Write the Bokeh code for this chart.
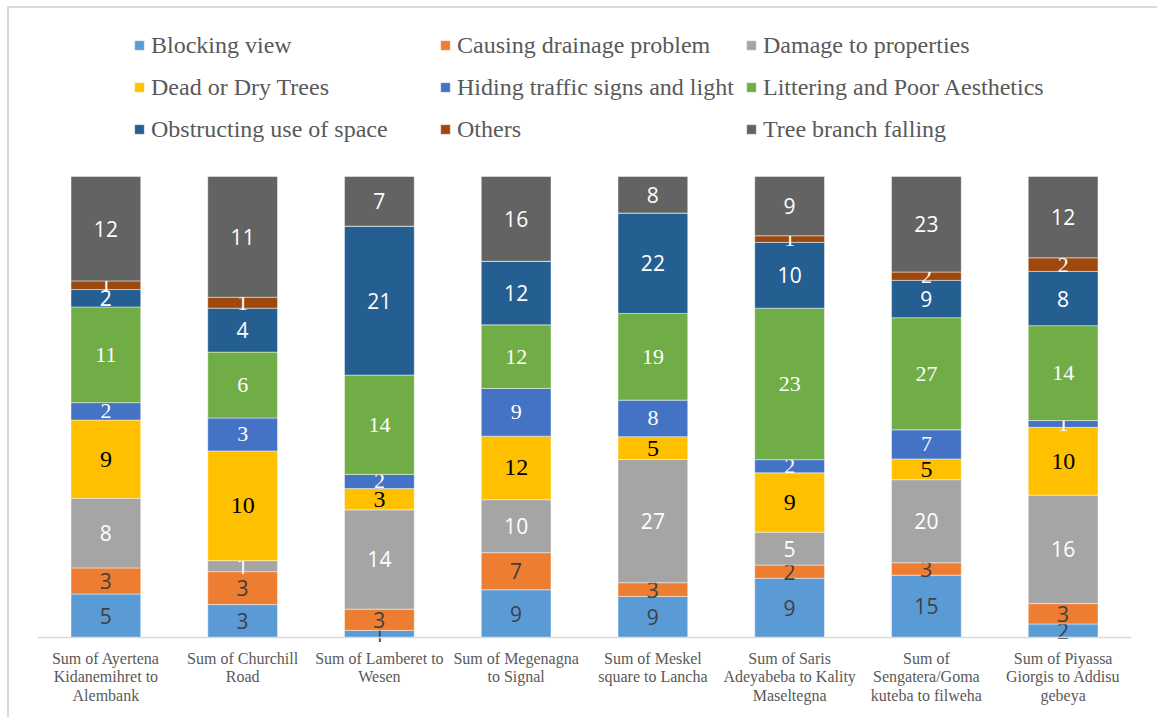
from bokeh.plotting import figure
from bokeh.models import ColumnDataSource, Legend, LegendItem, Span
from bokeh.core.properties import value
from bokeh.embed import file_html
from bokeh.resources import INLINE
import numpy as np

categories = [
    "Sum of Ayertena\nKidanemihret to\nAlembank",
    "Sum of Churchill\nRoad",
    "Sum of Lamberet to\nWesen",
    "Sum of Megenagna\nto Signal",
    "Sum of Meskel\nsquare to Lancha",
    "Sum of Saris\nAdeyabeba to Kality\nMaseltegna",
    "Sum of\nSengatera/Goma\nkuteba to filweha",
    "Sum of Piyassa\nGiorgis to Addisu\ngebeya",
]

series_names = [
    "Blocking view",
    "Causing drainage problem",
    "Damage to properties",
    "Dead or Dry Trees",
    "Hiding traffic signs and light",
    "Littering and Poor Aesthetics",
    "Obstructing use of space",
    "Others",
    "Tree branch falling",
]

blocking_view = [5, 3, 1, 9, 9, 9, 15, 2]
causing_drainage = [3, 3, 3, 7, 3, 2, 3, 3]
damage_properties = [8, 1, 14, 10, 27, 5, 20, 16]
dead_dry_trees = [9, 10, 3, 12, 5, 9, 5, 10]
hiding_signs = [2, 3, 2, 9, 8, 2, 7, 1]
littering = [11, 6, 14, 12, 19, 23, 27, 14]
obstructing = [2, 4, 21, 12, 22, 10, 9, 8]
others = [1, 1, 0, 0, 0, 1, 2, 2]
tree_branch = [12, 11, 7, 16, 8, 9, 23, 12]

series_values = [blocking_view, causing_drainage, damage_properties, dead_dry_trees,
                 hiding_signs, littering, obstructing, others, tree_branch]

colors = ["#5B9BD5", "#ED7D31", "#A5A5A5", "#FFC000", "#4472C4",
          "#70AD47", "#255E91", "#9E480E", "#636363"]

SANS = "Open Sans"
SERIF = "Liberation Serif"
label_styles = [
    (SANS, "21px", "#404040"),
    (SANS, "21px", "#404040"),
    (SANS, "21px", "white"),
    (SERIF, "24px", "black"),
    (SERIF, "22px", "white"),
    (SERIF, "22px", "white"),
    (SANS, "21px", "white"),
    (SERIF, "22px", "white"),
    (SANS, "21px", "white"),
]

vals = np.array(series_values, dtype=float)
totals = vals.sum(axis=0)
frac = vals / totals
tops = np.cumsum(frac, axis=0)
bottoms = tops - frac

# layout (pixels): bars span 176..637; frame extends above for the legend
PX = 461.0
FRAME_TOP, BAR_TOP, BASE, FRAME_BOTTOM = 10, 176, 637, 645
y_start = -(FRAME_BOTTOM - BASE) / PX
y_end = 1 + (BAR_TOP - FRAME_TOP) / PX

p = figure(
    x_range=categories, y_range=(y_start, y_end),
    width=1157, height=717,
    output_backend="svg", toolbar_location=None,
    y_axis_location=None,
    min_border_left=37, min_border_right=26,
    min_border_top=FRAME_TOP, min_border_bottom=717 - FRAME_BOTTOM,
)
p.background_fill_color = None
p.border_fill_color = None
p.outline_line_color = None
p.xgrid.visible = False
p.ygrid.visible = False

p.styles = {
    "background": "linear-gradient(#D9D9D9,#D9D9D9) 8px 6px / 1149px 2px no-repeat, "
                  "linear-gradient(#D9D9D9,#D9D9D9) 7px 6px / 2px 711px no-repeat, white"
}

xa = p.xaxis[0]
xa.axis_line_color = None
xa.major_tick_line_color = None
xa.minor_tick_line_color = None
xa.major_label_text_font = SERIF
xa.major_label_text_font_size = "16px"
xa.major_label_text_color = "#595959"
xa.major_label_text_line_height = 1.1
xa.major_label_standoff = -2
xa.major_label_orientation = "horizontal"

p.add_layout(Span(location=0, dimension="width", line_color="#D9D9D9", line_width=1.5))

items = []
for i, name in enumerate(series_names):
    labels = [("%d" % v) if v > 0 else "" for v in series_values[i]]
    src = ColumnDataSource(dict(
        x=categories, bottom=bottoms[i], top=tops[i],
        mid=(bottoms[i] + tops[i]) / 2, label=labels,
    ))
    r = p.vbar(x="x", bottom="bottom", top="top", width=0.51, source=src,
               fill_color=colors[i], line_color="white", line_alpha=0.45, line_width=1)
    font, size, col = label_styles[i]
    p.text(x="x", y="mid", text="label", source=src,
           text_align="center", text_baseline="middle",
           text_font=value(font), text_font_size=size, text_color=col)
    items.append(LegendItem(label=name, renderers=[r]))

legend = Legend(
    items=items, orientation="horizontal", ncols=3,
    location=(96, FRAME_BOTTOM - 150),
    glyph_width=12, glyph_height=12, label_standoff=6,
    label_width=288, label_height=42, spacing=0,
    padding=0, margin=0,
    label_text_font=SERIF, label_text_font_size="24px",
    label_text_color="#595959", label_text_baseline="middle",
    border_line_color=None, background_fill_alpha=0,
)
p.add_layout(legend, "center")

open("out.html", "w").write(file_html(p, INLINE))
